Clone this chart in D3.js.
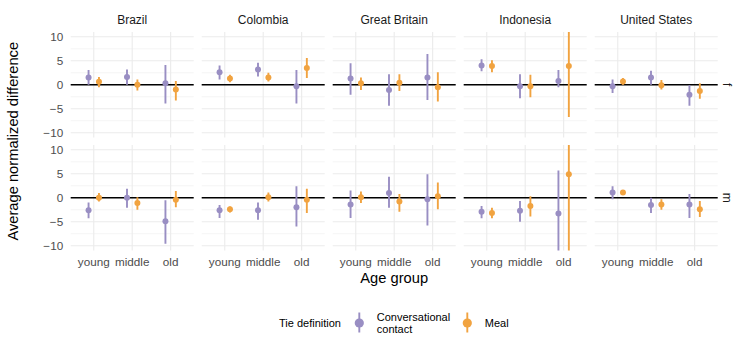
<!DOCTYPE html>
<html>
<head>
<meta charset="utf-8">
<script src="https://d3js.org/d3.v7.min.js"></script>
<style>
  body { margin: 0; background: #fff; }
  svg { font-family: "Liberation Sans", Arial, sans-serif; }
</style>
</head>
<body>
<svg id="chart" width="750" height="350"></svg>
<script>
// ---- data ----
const countries = ["Brazil", "Colombia", "Great Britain", "Indonesia", "United States"];
const ageGroups = ["young", "middle", "old"];
const genders = ["f", "m"];
const tieDefs = ["Conversational contact", "Meal"];
const yTicks = [-10, -5, 0, 5, 10];

// [estimate, lower, upper] for young, middle, old — one row per country
const convF = [
  [[1.5, 0, 3.1], [1.6, 0, 3.2], [0.3, -3.9, 4.1]],
  [[2.6, 1.1, 4.0], [3.2, 1.7, 4.6], [-0.3, -3.9, 3.1]],
  [[1.3, -2.1, 4.5], [-1.1, -4.4, 2.2], [1.5, -3.2, 6.4]],
  [[4.0, 2.8, 5.3], [-0.3, -2.8, 2.2], [0.8, -0.5, 3.1]],
  [[-0.3, -1.7, 1.1], [1.5, 0, 2.9], [-2.1, -4.4, -0.1]]
];
const mealF = [
  [[0.6, -0.5, 1.6], [0, -1.2, 1.1], [-1.0, -3.3, 0.8]],
  [[1.3, 0.5, 2.1], [1.5, 0.7, 2.5], [3.5, 1.4, 5.6]],
  [[0.3, -1.1, 1.5], [0.4, -1.3, 2.2], [-0.5, -3.5, 2.6]],
  [[3.9, 2.6, 5.1], [-0.3, -2.6, 2.1], [3.9, -6.7, 14.5]],
  [[0.7, 0, 1.4], [-0.1, -1.0, 1.0], [-1.3, -2.9, 0.3]]
];
const convM = [
  [[-2.6, -4.3, -1.0], [0, -2.1, 1.9], [-4.9, -9.6, -0.5]],
  [[-2.6, -4.2, -1.5], [-2.6, -4.6, -1.0], [-2.0, -6.0, 2.4]],
  [[-1.4, -4.2, 1.5], [1.0, -2.1, 4.4], [-0.3, -5.8, 4.9]],
  [[-2.9, -4.3, -1.7], [-2.7, -5.0, -0.7], [-3.3, -12.3, 5.7]],
  [[1.1, -0.3, 2.4], [-1.5, -3.2, 0], [-1.4, -4.2, 0.8]]
];
const mealM = [
  [[0, -0.8, 1.0], [-1.1, -2.5, 0.1], [-0.4, -2.0, 1.4]],
  [[-2.4, -3.1, -1.8], [0.1, -0.8, 1.1], [-0.4, -3.2, 1.9]],
  [[0.1, -1.1, 1.3], [-0.8, -2.9, 0.8], [0.3, -2.4, 3.2]],
  [[-3.2, -4.3, -2.1], [-1.7, -3.9, 0.3], [4.9, -12.5, 22.2]],
  [[1.1, 0.7, 1.5], [-1.4, -2.5, -0.3], [-2.4, -4.0, -0.7]]
];
const series = { f: [convF, mealF], m: [convM, mealM] };

// ---- layout ----
const svg = d3.select("#chart");
const panelLeft = 70.7, panelW = 123, panelGapX = 8;
const panelTop = 32, panelH = 105.5, panelGapY = 7.5;

const color = d3.scaleOrdinal().domain(tieDefs).range(["#998EC3", "#F1A340"]);
const fx = d3.scaleBand().domain(countries)
  .range([panelLeft, panelLeft + countries.length * (panelW + panelGapX)]);
const fy = d3.scaleBand().domain(genders)
  .range([panelTop, panelTop + genders.length * (panelH + panelGapY)]);
const x = d3.scalePoint().domain(ageGroups).range([0, panelW]).padding(0.6);
const y = d3.scaleLinear().domain([-11, 11]).range([panelH, 0]);
const dodge = d3.scalePoint().domain(tieDefs).range([-5.2, 5.2]);

const defs = svg.append("defs");
defs.append("clipPath").attr("id", "clip")
  .append("rect").attr("width", panelW).attr("height", panelH);

genders.forEach((g, gi) => {
  countries.forEach((c, ci) => {
    const p = svg.append("g")
      .attr("transform", `translate(${fx(c)},${fy(g)})`);

    // minor grid
    p.selectAll(".minor").data([-7.5, -2.5, 2.5, 7.5]).join("line")
      .attr("x1", 0).attr("x2", panelW)
      .attr("y1", d => y(d)).attr("y2", d => y(d))
      .attr("stroke", "#EBEBEB").attr("stroke-width", 0.55);
    // major grid
    p.selectAll(".major").data(yTicks).join("line")
      .attr("x1", 0).attr("x2", panelW)
      .attr("y1", d => y(d)).attr("y2", d => y(d))
      .attr("stroke", "#EBEBEB").attr("stroke-width", 1.1);
    p.selectAll(".vgrid").data(ageGroups).join("line")
      .attr("x1", d => x(d)).attr("x2", d => x(d))
      .attr("y1", 0).attr("y2", panelH)
      .attr("stroke", "#EBEBEB").attr("stroke-width", 1.1);

    // zero line
    p.append("line").attr("x1", 0).attr("x2", panelW)
      .attr("y1", y(0)).attr("y2", y(0))
      .attr("stroke", "#000").attr("stroke-width", 1.3);

    const marks = p.append("g").attr("clip-path", "url(#clip)");
    tieDefs.forEach((t, ti) => {
      const vals = series[g][ti][ci];
      const pts = ageGroups.map((a, ai) => ({ a, est: vals[ai][0], lo: vals[ai][1], hi: vals[ai][2] }));
      marks.selectAll(null).data(pts).join("line")
        .attr("x1", d => x(d.a) + dodge(t)).attr("x2", d => x(d.a) + dodge(t))
        .attr("y1", d => y(d.lo)).attr("y2", d => y(d.hi))
        .attr("stroke", color(t)).attr("stroke-width", 1.9);
      marks.selectAll(null).data(pts).join("circle")
        .attr("cx", d => x(d.a) + dodge(t)).attr("cy", d => y(d.est))
        .attr("r", 3).attr("fill", color(t));
    });

    // y axis labels on first column
    if (ci === 0) {
      p.selectAll(".ytick").data(yTicks).join("text")
        .attr("x", -7.5).attr("y", d => y(d)).attr("dy", "0.35em")
        .attr("text-anchor", "end").attr("fill", "#4D4D4D")
        .style("font-size", "11.7px")
        .text(d => d < 0 ? "\u2212" + Math.abs(d) : d);
    }
    // facet titles on top row
    if (gi === 0) {
      p.append("text").attr("x", panelW / 2).attr("y", -8)
        .attr("text-anchor", "middle").attr("fill", "#1A1A1A")
        .style("font-size", "12px").text(c);
    }
    // x labels on bottom row
    if (gi === genders.length - 1) {
      p.selectAll(".xtick").data(ageGroups).join("text")
        .attr("x", d => x(d)).attr("y", panelH + 15.5)
        .attr("text-anchor", "middle").attr("fill", "#4D4D4D")
        .style("font-size", "11.7px").text(d => d);
    }
    // right strip labels
    if (ci === countries.length - 1) {
      p.append("text")
        .attr("transform", `translate(${panelW + 10},${panelH / 2}) rotate(90)`)
        .attr("text-anchor", "middle").attr("dy", "0.35em")
        .attr("fill", "#1A1A1A").style("font-size", "12px").text(g);
    }
  });
});

// axis titles
const plotRight = fx(countries[countries.length - 1]) + panelW;
svg.append("text")
  .attr("x", (panelLeft + plotRight) / 2).attr("y", 283)
  .attr("text-anchor", "middle").style("font-size", "14.7px")
  .text("Age group");
svg.append("text")
  .attr("transform", `translate(18,${(panelTop + fy("m") + panelH) / 2}) rotate(-90)`)
  .attr("text-anchor", "middle").style("font-size", "14.7px")
  .text("Average normalized difference");

// legend
const legend = svg.append("g").attr("transform", "translate(0,323)");
legend.append("text").attr("x", 279).attr("y", 0).attr("dy", "0.35em")
  .style("font-size", "11px").text("Tie definition");
const keyX = [359.3, 467.3];
tieDefs.forEach((t, i) => {
  const k = legend.append("g").attr("transform", `translate(${keyX[i]},0)`);
  k.append("line").attr("y1", -10.5).attr("y2", 9.5)
    .attr("stroke", color(t)).attr("stroke-width", 1.9);
  k.append("circle").attr("r", 4.6).attr("fill", color(t));
  const words = t === "Conversational contact" ? ["Conversational", "contact"] : [t];
  const txt = k.append("text").attr("x", 17.5).style("font-size", "11px");
  words.forEach((w, j) => {
    txt.append("tspan").attr("x", 17.5)
      .attr("y", (j - (words.length - 1) / 2) * 12).attr("dy", "0.35em").text(w);
  });
});
</script>
</body>
</html>
